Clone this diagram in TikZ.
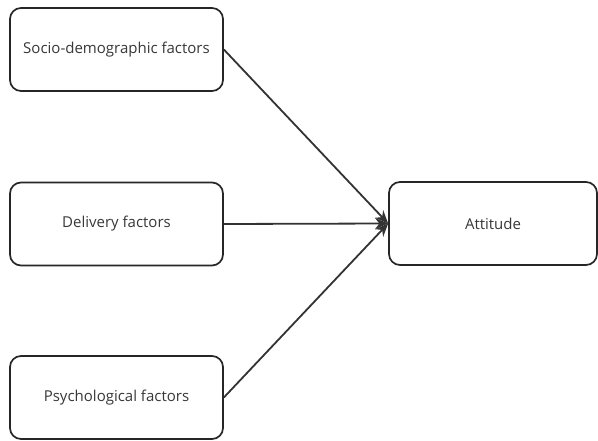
\documentclass[tikz,border=0pt]{standalone}
\usepackage{fontspec}
\setmainfont{Open Sans}
\usetikzlibrary{arrows.meta}
\begin{document}
\begin{tikzpicture}[x=1pt,y=-1pt,
  factor/.style={draw=black!85, line width=1.7pt, rounded corners=11pt, fill=white,
    minimum width=213pt, minimum height=83pt, inner sep=0pt,
    font=\fontsize{15}{18}\selectfont, text=black!78},
  link/.style={draw=black!80, line width=1.8pt, -{Stealth[length=13pt,width=11pt]}}]
  \useasboundingbox (0,0) rectangle (598,441);
  \node[factor] (socio) at (116.5,49.5) {Socio-demographic factors};
  \node[factor] (deliv) at (116.5,224) {Delivery factors};
  \node[factor] (psych) at (116.5,397.5) {Psychological factors};
  \node[factor, minimum width=208pt] (att) at (493,223.5) {Attitude};
  \draw[link] (socio.east) -- (att.west);
  \draw[link] (deliv.east) -- (att.west);
  \draw[link] (psych.east) -- (att.west);
\end{tikzpicture}
\end{document}
